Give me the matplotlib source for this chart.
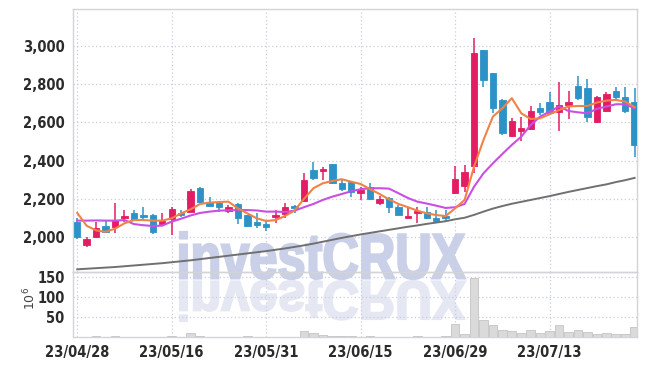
import matplotlib
matplotlib.use("Agg")
import matplotlib.pyplot as plt
from matplotlib.textpath import TextPath
from matplotlib.patches import PathPatch
from matplotlib.font_manager import FontProperties, fontManager
from matplotlib.transforms import Affine2D
from matplotlib.ticker import FuncFormatter

# daily candles, 23/04/28 .. 23/07/26 (index = trading day)
opens = [2081, 1960, 2000, 2059, 2055, 2101, 2128, 2115, 2116, 2069,
         2095, 2128, 2134, 2256, 2183, 2178, 2139, 2172, 2116, 2081,
         2069, 2108, 2120, 2160, 2191, 2351, 2348, 2382, 2285, 2290,
         2233, 2261, 2180, 2203, 2157, 2100, 2125, 2134, 2102, 2111,
         2230, 2268, 2374, 2978, 2859, 2717, 2529, 2556, 2564, 2677,
         2706, 2656, 2690, 2790, 2778, 2603, 2659, 2764, 2734, 2708]
highs = [2100, 2002, 2078, 2085, 2177, 2140, 2145, 2157, 2122, 2128,
         2157, 2140, 2250, 2261, 2209, 2190, 2170, 2180, 2116, 2128,
         2090, 2142, 2177, 2169, 2334, 2395, 2365, 2385, 2303, 2290,
         2261, 2282, 2214, 2212, 2170, 2160, 2160, 2160, 2142, 2142,
         2374, 2377, 3039, 2978, 2859, 2720, 2623, 2630, 2685, 2703,
         2760, 2812, 2765, 2842, 2825, 2737, 2758, 2783, 2783, 2778]
lows = [1993, 1951, 1995, 2022, 2021, 2081, 2083, 2087, 2015, 2069,
        2010, 2104, 2130, 2177, 2157, 2130, 2125, 2067, 2055, 2050,
        2035, 2076, 2099, 2125, 2190, 2299, 2299, 2278, 2243, 2212,
        2195, 2195, 2170, 2125, 2116, 2099, 2073, 2095, 2081, 2083,
        2226, 2238, 2334, 2786, 2650, 2534, 2524, 2504, 2560, 2638,
        2638, 2555, 2616, 2717, 2603, 2595, 2655, 2720, 2650, 2417]
closes = [1999, 1991, 2048, 2029, 2090, 2111, 2090, 2108, 2029, 2087,
          2146, 2116, 2240, 2186, 2165, 2158, 2157, 2099, 2059, 2064,
          2052, 2116, 2157, 2153, 2299, 2311, 2357, 2282, 2250, 2238,
          2247, 2198, 2198, 2157, 2116, 2111, 2139, 2102, 2087, 2099,
          2304, 2342, 2963, 2821, 2673, 2546, 2607, 2572, 2659, 2656,
          2647, 2690, 2708, 2726, 2630, 2731, 2748, 2734, 2659, 2482]
volumes = [1, 1, 2, 1, 2, 1, 1, 1, 1, 1,
           2, 1, 9, 3, 1, 1, 1, 1, 2, 1,
           1, 1, 1, 1, 14, 11, 4, 3, 2, 2,
           1, 2, 1, 1, 1, 1, 2, 1, 1, 2,
           32, 7, 146, 42, 30, 17, 15, 10, 17, 11,
           14, 29, 13, 17, 13, 8, 11, 7, 7, 24]

# moving averages as drawn
ma_short = [2127, 2060, 2036, 2029, 2045, 2073, 2090, 2090, 2087, 2087,
            2099, 2125, 2146, 2174, 2181, 2184, 2186, 2151, 2125, 2099,
            2085, 2090, 2111, 2140, 2200, 2256, 2282, 2294, 2303, 2290,
            2278, 2251, 2226, 2198, 2174, 2157, 2139, 2125, 2116, 2111,
            2151, 2195, 2368, 2508, 2630, 2673, 2726, 2647, 2617, 2621,
            2642, 2664, 2682, 2685, 2685, 2703, 2713, 2717, 2708, 2679]
ma_mid = [2087, 2087, 2088, 2087, 2087, 2090, 2069, 2063, 2059, 2061,
          2082, 2097, 2114, 2127, 2134, 2139, 2141, 2142, 2142, 2140,
          2134, 2134, 2132, 2139, 2157, 2174, 2195, 2212, 2226, 2240,
          2251, 2256, 2256, 2254, 2230, 2205, 2186, 2176, 2165, 2153,
          2157, 2174, 2264, 2334, 2386, 2435, 2482, 2525, 2586, 2630,
          2656, 2682, 2659, 2652, 2647, 2670, 2682, 2694, 2694, 2673]
ma_long = [1833, 1836, 1839, 1842, 1845, 1849, 1853, 1857, 1861, 1865,
           1870, 1875, 1880, 1886, 1892, 1898, 1904, 1910, 1916, 1922,
           1928, 1935, 1942, 1950, 1958, 1967, 1977, 1987, 1997, 2006,
           2015, 2023, 2031, 2039, 2047, 2055, 2062, 2070, 2077, 2084,
           2094, 2102, 2117, 2134, 2150, 2163, 2175, 2185, 2195, 2205,
           2215, 2226, 2237, 2247, 2257, 2267, 2276, 2288, 2298, 2310]

tick_pos = [0, 10, 20, 30, 40, 50]
tick_labels = ["23/04/28", "23/05/16", "23/05/31", "23/06/15", "23/06/29", "23/07/13"]

UP = "#e31c63"
DOWN = "#2d93c7"
GRID = "#c9cde0"
SPINE = "#d4d4d8"
TXT = "#2b2b2b"


def narrow_font():
    # any condensed / narrow bold face on the system, else plain DejaVu bold
    for f in fontManager.ttflist:
        nm = f.name.lower()
        cond = "narrow" in nm or "condensed" in nm or "condensed" in str(f.stretch)
        if cond and f.weight in ("bold", 700, "semibold", 600):
            return FontProperties(fname=f.fname, size=10.5)
    return FontProperties(family="DejaVu Sans", weight="bold", size=9)


lab_fp = narrow_font()

W, H = 647, 366
fig = plt.figure(figsize=(W / 100, H / 100), dpi=100)
ax = fig.add_axes([73 / W, 1 - 272 / H, 564 / W, 263 / H])
axv = fig.add_axes([73 / W, 1 - 337 / H, 564 / W, 65 / H], sharex=ax)
for a in (ax, axv):
    a.set_facecolor("none")
    for s in a.spines.values():
        s.set_color(SPINE)
        s.set_linewidth(1)
    a.tick_params(length=0, colors=TXT, pad=6)

# watermark with its reflection
fp = FontProperties(family=["Liberation Sans", "DejaVu Sans"], weight="bold")
tp = TextPath((0, 0), "investCRUX", size=100, prop=fp)
ext = tp.get_extents()
x0, x1, ytop, ybase = 180, 465, 232, 279
sx = (x1 - x0) / ext.width
sy = (ybase - ytop) / ext.height
wm = Affine2D().translate(-ext.x0, -ext.y0).scale(sx, sy).translate(x0, H - ybase)
fig.add_artist(PathPatch(wm.transform_path(tp), facecolor="#c9d0e8", edgecolor="#c9d0e8",
                         linewidth=1.6, transform=None, zorder=-1))
rf = Affine2D().translate(-ext.x0, -ext.y0).scale(sx, -sy * 0.85).translate(x0, H - ybase - 2)
fig.add_artist(PathPatch(rf.transform_path(tp), facecolor="#e5e8f3", edgecolor="#e5e8f3",
                         linewidth=1.6, transform=None, zorder=-1))

xs = list(range(len(opens)))
for i in xs:
    o, h, l, c = opens[i], highs[i], lows[i], closes[i]
    col = UP if c >= o else DOWN
    ax.vlines(i, l, h, color=col, linewidth=1.1, zorder=3)
    body = max(abs(c - o), 12)
    ax.bar(i, body, bottom=min(o, c) - (body - abs(c - o)) / 2, width=0.68,
           color=col, edgecolor=col, linewidth=0.6, zorder=4)

ax.plot(xs, ma_long, color="#707072", linewidth=1.4, zorder=5)
ax.plot(xs, ma_mid, color="#c94fe3", linewidth=1.5, zorder=5)
ax.plot(xs, ma_short, color="#ef8347", linewidth=1.5, zorder=6)

ax.set_ylim(1819, 3191)
ax.set_yticks([2000, 2200, 2400, 2600, 2800, 3000])
ax.yaxis.set_major_formatter(FuncFormatter(lambda v, p: f"{int(v):,}"))
ax.grid(True, color=GRID, linestyle=(0, (1, 2)), linewidth=0.9)
ax.set_axisbelow(True)
ax.tick_params(axis="x", labelbottom=False)
for t in ax.get_yticklabels():
    t.set_fontproperties(lab_fp)

axv.bar(xs, volumes, width=0.92, color="#dadada", edgecolor="#c4c4c4", linewidth=0.6, zorder=3)
axv.set_ylim(0, 162)
axv.set_yticks([50, 100, 150])
axv.grid(True, color=GRID, linestyle=(0, (1, 2)), linewidth=0.9)
axv.set_axisbelow(True)
axv.set_xlim(-0.45, 59.25)
axv.set_xticks(tick_pos)
axv.set_xticklabels(tick_labels)
for t in axv.get_xticklabels() + axv.get_yticklabels():
    t.set_fontproperties(lab_fp)
fig.text(30 / W, 1 - 298 / H, r"$10^6$", rotation=90, ha="center", va="center",
         fontsize=9, color="#444444")

fig.savefig("out.png", dpi=100)
